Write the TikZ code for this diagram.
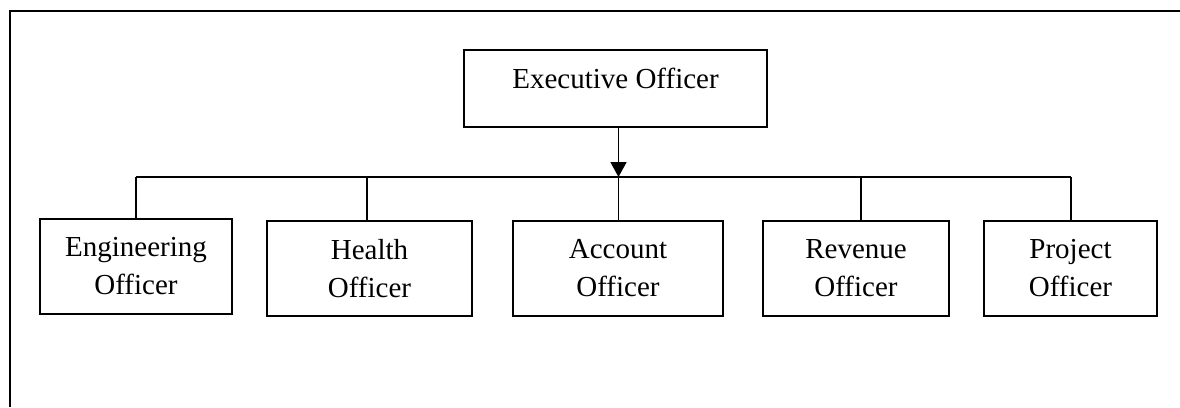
\documentclass[tikz,border=0pt]{standalone}
\usepackage{fontspec}
\setmainfont{Liberation Serif}
\usetikzlibrary{arrows.meta}
\begin{document}
\begin{tikzpicture}[x=1pt,y=-1pt,
  box/.style={draw, line width=1.6pt, inner sep=0pt, align=center,
    font=\fontsize{29}{38}\selectfont},
  conn/.style={line width=1.6pt}]
\useasboundingbox (0,0) rectangle (1180,407);
% outer frame (only top and left edges visible)
\coordinate (fbl) at (10,407);
\coordinate (ftl) at (10,11);
\coordinate (ftr) at (1180,11);
\draw[line width=2.2pt] (fbl) -- (ftl) -- (ftr);
% boxes
\node[box, minimum width=303pt, minimum height=77pt, text height=20pt, text depth=20pt]
  (exec) at (615.5,88.5) {Executive Officer};
\node[box, minimum width=192pt, minimum height=95pt] (eng) at (136,266.5) {Engineering\\Officer};
\node[box, minimum width=205pt, minimum height=95pt] (hea) at (369.5,268.5) {Health\\Officer};
\node[box, minimum width=210pt, minimum height=95pt] (acc) at (618,268.5) {Account\\Officer};
\node[box, minimum width=186pt, minimum height=95pt] (rev) at (856,268.5) {Revenue\\Officer};
\node[box, minimum width=173pt, minimum height=95pt] (pro) at (1070.5,268.5) {Project\\Officer};
% bus coordinates
\coordinate (b1) at (136,177);
\coordinate (b2) at (367,177);
\coordinate (b3) at (618.5,177);
\coordinate (b4) at (861,177);
\coordinate (b5) at (1071,177);
\draw[conn] (b1) -- (b5);
\draw[conn] (b1) -- (b1 |- eng.north);
\draw[conn] (b2) -- (b2 |- hea.north);
\draw[conn] (b3) -- (b3 |- acc.north);
\draw[conn] (b4) -- (b4 |- rev.north);
\draw[conn] (b5) -- (b5 |- pro.north);
\draw[conn, -{Triangle[length=15pt,width=16pt]}] (exec.south -| b3) -- (b3);
\end{tikzpicture}
\end{document}
